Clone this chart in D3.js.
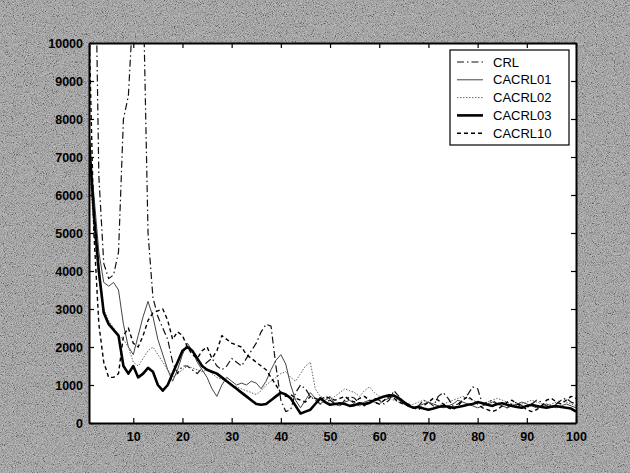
<!DOCTYPE html>
<html>
<head>
<meta charset="utf-8">
<script src="https://cdn.jsdelivr.net/npm/d3@7"></script>
<style>
  body { margin: 0; background: #a4a4a4; }
  svg { display: block; }
</style>
</head>
<body>
<div id="chart"></div>
<script>

// ---- data ----
var seriesNames = ["CRL", "CACRL01", "CACRL02", "CACRL03", "CACRL10"];

var crl = [
  9000, 15000, 6500, 4200, 3800, 3900, 4500, 8000, 8600, 11000,
  12000, 11500, 5000, 3300, 2800, 2500, 2200, 1600, 1300, 1500,
  1500, 1400, 1300, 1450, 1600, 1700, 1500, 1400, 1500, 1700,
  1600, 1500, 1700, 1900, 2100, 2400, 2600, 2550, 1500, 600,
  300, 350, 800, 1000, 900, 700, 600, 500, 550, 600,
  500, 450, 600, 700, 650, 500, 450, 550, 650, 600,
  500, 600, 850, 700, 550, 500, 400, 450, 600, 550,
  450, 700, 800, 650, 450, 500, 600, 750, 950, 900,
  500, 550, 600, 500, 450, 400, 500, 550, 450, 400,
  500, 600, 550, 450, 400, 500, 600, 650, 550, 500
];

var cacrl01 = [
  7200, 6000, 4500, 3700, 3600, 3700, 3500, 2600, 2000, 1800,
  2300, 2800, 3200, 2800, 2200, 1800, 1400, 1100, 1400, 1800,
  2100, 1900, 1600, 1400, 1200, 900, 700, 1000, 1200, 1100,
  1000, 1050, 1000, 1100, 1050, 900, 1100, 1400, 1650, 1800,
  1550, 1000, 600, 400, 600, 800, 650, 500, 600, 700,
  500, 450, 550, 600, 500, 450, 550, 600, 550, 500,
  600, 650, 700, 600, 500, 450, 400, 450, 500, 550,
  500, 450, 400, 450, 500, 600, 550, 500, 450, 400,
  450, 500, 550, 500, 450, 400, 450, 500, 550, 500,
  450, 400, 450, 500, 450, 400, 450, 500, 450, 400
];

var cacrl02 = [
  7000, 5000, 3800, 3000, 2700, 2500, 2300, 2200, 2000, 1600,
  1500, 1700, 1900, 2000, 1800, 1600, 1400, 1200, 1300, 1400,
  1500, 1450, 1400, 1350, 1400, 1300, 1200, 1150, 1100, 1000,
  950, 900, 850, 800, 750, 850, 1000, 1100, 1200, 1300,
  1350, 1200, 1100, 1300, 1500, 1600, 900, 700, 650, 600,
  700, 800, 900, 850, 800, 700, 850, 950, 800, 700,
  700, 650, 600, 550, 500, 450, 500, 550, 600, 550,
  500, 450, 500, 550, 600, 650, 700, 650, 600, 550,
  500, 550, 600, 650, 600, 550, 500, 450, 500, 550,
  600, 550, 500, 450, 500, 550, 600, 550, 500, 450
];

var cacrl03 = [
  7500, 5500, 4000, 2900, 2600, 2450, 2300, 1500, 1300, 1500,
  1200, 1300, 1450, 1350, 1000, 850, 1000, 1300, 1600, 1900,
  2000, 1900, 1700, 1500, 1400, 1350, 1300, 1200, 1100, 1000,
  900, 800, 700, 600, 500, 480, 500, 600, 700, 800,
  750, 650, 450, 250, 300, 350, 500, 650, 550, 480,
  500, 520, 500, 450, 470, 520, 500, 530, 600, 650,
  700, 730, 720, 650, 550, 450, 400, 420, 380, 350,
  380, 420, 450, 430, 400, 420, 450, 480, 500, 550,
  520, 480, 450, 500, 520, 480, 450, 420, 400, 450,
  480, 450, 420, 400, 430, 450, 420, 400, 380, 300
];

var cacrl10 = [
  10500, 5000, 2600, 1600, 1200, 1200, 1300, 2300, 2500, 2100,
  2000, 2300, 2700, 2900, 2950, 3000, 2700, 2200, 2400, 2300,
  2000, 1800, 1700, 1900, 2000, 1700, 1900, 2300, 2200, 2100,
  2050, 2000, 1800, 1700, 1600, 1500, 1400, 1200, 1000, 800,
  700, 750, 650, 600, 550, 700, 650, 600, 700, 650,
  600, 650, 700, 600, 550, 650, 700, 600, 550, 500,
  600, 700, 650, 550, 500, 450, 400, 350, 450, 550,
  650, 600, 500, 400, 350, 450, 600, 700, 600, 500,
  400, 350, 300, 350, 450, 550, 600, 500, 450, 350,
  300, 350, 450, 600, 650, 550, 500, 600, 700, 650
];

var xTicks = [10, 20, 30, 40, 50, 60, 70, 80, 90, 100];
var yTicks = [0, 1000, 2000, 3000, 4000, 5000, 6000, 7000, 8000, 9000, 10000];

// ---- layout ----
var W = 630, H = 473;
var margin = {left: 89, top: 43, right: 54, bottom: 50};
var iw = W - margin.left - margin.right;
var ih = H - margin.top - margin.bottom;

var styles = {
  "CRL":     {stroke: "#111", width: 1.2, dash: "7,3,1.5,3"},
  "CACRL01": {stroke: "#444", width: 1.0, dash: null},
  "CACRL02": {stroke: "#555", width: 0.9, dash: "1.5,1.5"},
  "CACRL03": {stroke: "#000", width: 2.6, dash: null},
  "CACRL10": {stroke: "#000", width: 1.4, dash: "4,3"}
};

var allSeries = [crl, cacrl01, cacrl02, cacrl03, cacrl10].map(function(vals, i) {
  return {name: seriesNames[i], values: vals.map(function(v, j) { return {x: j + 1, y: v}; })};
});

var svg = d3.select("#chart").append("svg").attr("width", W).attr("height", H);

// grainy scanned background
var defs = svg.append("defs");
var f = defs.append("filter").attr("id", "grain").attr("x", 0).attr("y", 0).attr("width", "100%").attr("height", "100%");
f.append("feTurbulence").attr("type", "fractalNoise").attr("baseFrequency", 1.1).attr("numOctaves", 2).attr("seed", 4);
f.append("feColorMatrix").attr("type", "saturate").attr("values", 0);
var ct = f.append("feComponentTransfer");
["feFuncR", "feFuncG", "feFuncB"].forEach(function(fn) {
  ct.append(fn).attr("type", "linear").attr("slope", 2.2).attr("intercept", -0.65);
});
ct.append("feFuncA").attr("type", "table").attr("tableValues", "0.4 0.4");
defs.append("clipPath").attr("id", "plotclip").append("rect").attr("width", iw).attr("height", ih);

svg.append("rect").attr("width", W).attr("height", H).attr("fill", "#9c9c9c");
svg.append("rect").attr("width", W).attr("height", H).attr("filter", "url(#grain)");

var g = svg.append("g").attr("transform", "translate(" + margin.left + "," + margin.top + ")");

var x = d3.scaleLinear().domain([1, 100]).range([0, iw]);
var y = d3.scaleLinear().domain([0, 10000]).range([ih, 0]);

g.append("rect").attr("width", iw).attr("height", ih).attr("fill", "#fff");

// lines
var line = d3.line().x(function(d) { return x(d.x); }).y(function(d) { return y(d.y); });
var lines = g.append("g").attr("clip-path", "url(#plotclip)");
lines.selectAll("path").data(allSeries).enter().append("path")
  .attr("d", function(d) { return line(d.values); })
  .attr("fill", "none")
  .attr("stroke", function(d) { return styles[d.name].stroke; })
  .attr("stroke-width", function(d) { return styles[d.name].width; })
  .attr("stroke-dasharray", function(d) { return styles[d.name].dash; })
  .attr("stroke-linejoin", "round");

// axes, matlab style ticks pointing inward
var font = "'Liberation Sans', Arial, sans-serif";
var xAxis = g.append("g").attr("transform", "translate(0," + ih + ")")
  .call(d3.axisBottom(x).tickValues(xTicks).tickSize(-5).tickPadding(9).tickSizeOuter(0).tickFormat(d3.format("d")));
var yAxis = g.append("g")
  .call(d3.axisLeft(y).tickValues(yTicks).tickSize(-5).tickPadding(6).tickSizeOuter(0).tickFormat(d3.format("d")));
g.append("g").call(d3.axisTop(x).tickValues(xTicks).tickSize(-5).tickFormat("").tickSizeOuter(0));
g.append("g").attr("transform", "translate(" + iw + ",0)")
  .call(d3.axisRight(y).tickValues(yTicks).tickSize(-5).tickFormat("").tickSizeOuter(0));

g.selectAll(".domain").attr("stroke", "#000").attr("stroke-width", 2);
g.selectAll(".tick line").attr("stroke", "#000").attr("stroke-width", 1.2);
[xAxis, yAxis].forEach(function(a) {
  a.selectAll("text").attr("fill", "#000").style("font-family", font)
    .style("font-size", "12.5px").style("font-weight", "bold");
});

// legend
var lg = g.append("g").attr("transform", "translate(" + (450 - margin.left) + "," + (50 - margin.top) + ")");
lg.append("rect").attr("width", 119).attr("height", 95).attr("fill", "#fff")
  .attr("stroke", "#000").attr("stroke-width", 1.2);
var items = lg.selectAll(".item").data(allSeries).enter().append("g")
  .attr("transform", function(d, i) { return "translate(0," + (12 + i * 17.8) + ")"; });
items.append("line").attr("x1", 7).attr("x2", 33).attr("y1", 0).attr("y2", 0)
  .attr("stroke", function(d) { return styles[d.name].stroke; })
  .attr("stroke-width", function(d) { return styles[d.name].width; })
  .attr("stroke-dasharray", function(d) { return styles[d.name].dash; });
items.append("text").attr("x", 43).attr("y", 0).attr("dy", "0.35em")
  .style("font-family", font).style("font-size", "13px").attr("fill", "#000")
  .text(function(d) { return d.name; });

</script>
</body>
</html>
